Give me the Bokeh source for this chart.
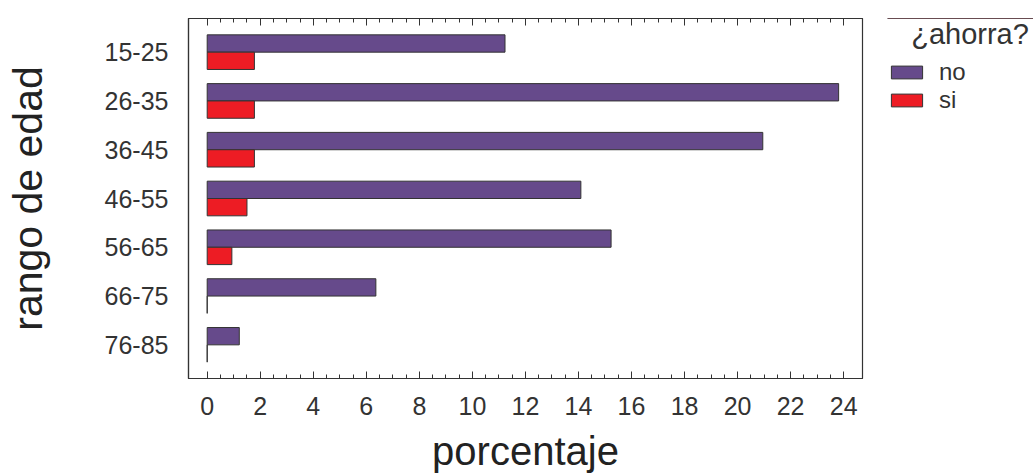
from bokeh.plotting import figure
from bokeh.layouts import row
from bokeh.models import (ColumnDataSource, FactorRange, Range1d, LinearAxis, FixedTicker,
                          Legend, LegendItem, CustomJSTickFormatter)
from bokeh.transform import dodge
from bokeh.embed import file_html
from bokeh.resources import INLINE

# ---- data ----
categories = ["15-25", "26-35", "36-45", "46-55", "56-65", "66-75", "76-85"]
no_values = [11.23, 23.81, 20.95, 14.09, 15.23, 6.36, 1.21]
si_values = [1.78, 1.78, 1.78, 1.50, 0.93, 0.0, 0.0]
series_labels = ["no", "si"]
legend_title = "¿ahorra?"
x_major_ticks = [0, 2, 4, 6, 8, 10, 12, 14, 16, 18, 20, 22, 24]
x_title = "porcentaje"
y_title = "rango de edad"

# ---- style ----
PURPLE = "#664A8B"
RED = "#ED1C24"
EDGE = "#333333"
TXT = "#333333"
FONT = "Liberation Sans"

minor = []
for a in x_major_ticks[:-1]:
    minor += [a + 0.5, a + 1.0, a + 1.5]

src = ColumnDataSource(dict(cat=categories, no=no_values, si=si_values))

y_range = FactorRange(factors=list(reversed(categories)), range_padding=0.19,
                      range_padding_units="absolute")

p = figure(width=864, height=475, x_range=Range1d(-0.705, 24.71), y_range=y_range,
           output_backend="svg", toolbar_location=None,
           min_border_left=188, min_border_right=2, min_border_top=18, min_border_bottom=97)

bw = 0.355
r_no = p.hbar(y=dodge("cat", bw / 2, range=p.y_range), left=0, right="no", height=bw,
              source=src, fill_color=PURPLE, line_color=EDGE, line_width=1)
r_si = p.hbar(y=dodge("cat", -bw / 2, range=p.y_range), left=0, right="si", height=bw,
              source=src, fill_color=RED, line_color=EDGE, line_width=1)

p.xgrid.grid_line_color = None
p.ygrid.grid_line_color = None
p.outline_line_color = EDGE
p.outline_line_width = 1.2
p.background_fill_color = "white"

ticker = FixedTicker(ticks=x_major_ticks, minor_ticks=minor)

xa = p.xaxis[0]
xa.ticker = ticker
xa.major_tick_in = 7
xa.major_tick_out = 0
xa.minor_tick_in = 4
xa.minor_tick_out = 0
xa.major_tick_line_color = EDGE
xa.minor_tick_line_color = EDGE
xa.axis_line_color = EDGE
xa.axis_line_width = 1.2
xa.major_label_standoff = 18
xa.major_label_text_font = FONT
xa.major_label_text_font_size = "25px"
xa.major_label_text_color = TXT
xa.axis_label = x_title
xa.axis_label_text_font = FONT
xa.axis_label_text_font_size = "40px"
xa.axis_label_text_font_style = "normal"
xa.axis_label_text_color = "#222222"
xa.axis_label_standoff = 11

top = LinearAxis(ticker=ticker, formatter=CustomJSTickFormatter(code="return ''"))
top.major_tick_in = 7
top.major_tick_out = 0
top.minor_tick_in = 4
top.minor_tick_out = 0
top.major_tick_line_color = EDGE
top.minor_tick_line_color = EDGE
top.axis_line_color = EDGE
top.axis_line_width = 1.2
top.major_label_standoff = 0
top.major_label_text_font_size = "1px"
p.add_layout(top, "above")

ya = p.yaxis[0]
ya.major_tick_line_color = None
ya.minor_tick_line_color = None
ya.major_tick_in = 0
ya.major_tick_out = 0
ya.minor_tick_in = 0
ya.minor_tick_out = 0
ya.axis_line_color = EDGE
ya.axis_line_width = 1.2
ya.major_label_standoff = 20
ya.major_label_text_font = FONT
ya.major_label_text_font_size = "25px"
ya.major_label_text_color = TXT
ya.axis_label = y_title
ya.axis_label_text_font = FONT
ya.axis_label_text_font_size = "41px"
ya.axis_label_text_font_style = "normal"
ya.axis_label_text_color = "#222222"
ya.axis_label_standoff = 51

# ---- legend panel (separate figure to the right of the plot) ----
q = figure(width=169, height=475, x_range=Range1d(0, 1), y_range=Range1d(0, 1),
           output_backend="svg", toolbar_location=None,
           min_border_left=23, min_border_top=3, min_border_right=0, min_border_bottom=0,
           x_axis_location=None, y_axis_location=None)
q.outline_line_color = None
q.xgrid.grid_line_color = None
q.ygrid.grid_line_color = None
# legend-key renderers: one entry each, lying outside the visible range of this panel
k_no = q.hbar(y=[5], left=[0], right=[1], height=0.1, fill_color=PURPLE, line_color=EDGE, line_width=1)
k_si = q.hbar(y=[5], left=[0], right=[1], height=0.1, fill_color=RED, line_color=EDGE, line_width=1)

legend = Legend(items=[LegendItem(label=series_labels[0], renderers=[k_no]),
                       LegendItem(label=series_labels[1], renderers=[k_si])],
                title="\u00a0\u00a0\u00a0" + legend_title,
                location="top_left", orientation="vertical",
                glyph_width=39, glyph_height=16, label_standoff=13, spacing=0,
                padding=0, margin=0, border_line_color=None, background_fill_alpha=0,
                title_text_font=FONT, title_text_font_size="29px", title_text_color=TXT,
                title_text_font_style="normal", title_standoff=7,
                label_text_font=FONT, label_text_font_size="24px", label_text_color=TXT)
q.add_layout(legend, "center")

open("out.html", "w").write(file_html(row(p, q), INLINE))
